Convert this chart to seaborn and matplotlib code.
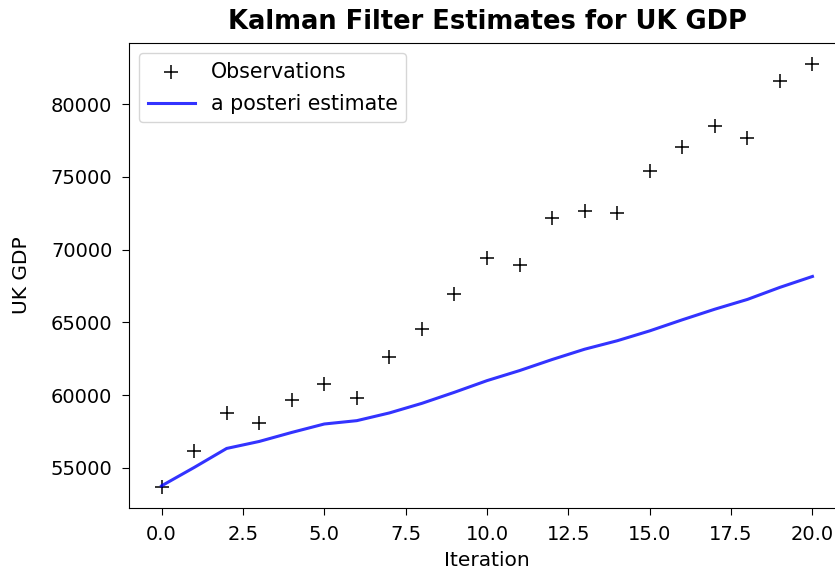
import numpy as np
import seaborn as sns
import matplotlib.pyplot as plt

# Observed UK GDP and Kalman filter a posteriori estimates
iteration = np.arange(21)
observations = [53690, 56170, 58800, 58070, 59670, 60740, 59830, 62640, 64540, 66920,
                69420, 68970, 72190, 72630, 72500, 75420, 77050, 78500, 77650, 81600, 82740]
estimates = [53760, 55020, 56330, 56810, 57430, 58010, 58240, 58770, 59430, 60190,
             60990, 61680, 62440, 63150, 63730, 64410, 65170, 65900, 66570, 67400, 68150]

plt.rcParams['font.family'] = ['DejaVu Sans']
fig = plt.figure(figsize=(8.35, 5.71), dpi=100)
ax = fig.add_axes([129 / 835, 63 / 571, 716 / 835, 465 / 571])

sns.scatterplot(x=iteration, y=observations, marker='+', color='k',
                s=100, linewidth=1.1, label='Observations', ax=ax)
sns.lineplot(x=iteration, y=estimates, color='b', alpha=0.8, linewidth=2.2,
             label='a posteri estimate', ax=ax)

ax.set_xlim(-1, 21)
ax.set_title('Kalman Filter Estimates for UK GDP', fontsize=18.5, fontweight='bold', pad=10)
ax.set_xlabel('Iteration', fontsize=14.5, labelpad=5)
ax.set_ylabel('UK GDP', fontsize=14.5)
ax.yaxis.set_label_coords(-0.137, 0.5)
ax.tick_params(labelsize=14, length=5, pad=7)
ax.legend(loc='upper left', fontsize=14.8, handlelength=2.3, labelspacing=0.6)

fig.savefig('out.png', dpi=100)
